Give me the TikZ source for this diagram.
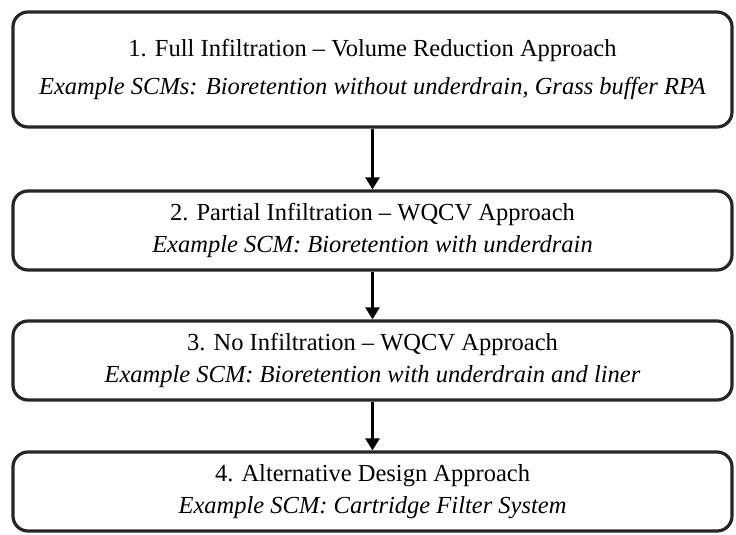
\documentclass[tikz,border=0pt]{standalone}
\usepackage{fontspec}
\setmainfont{Liberation Serif}
\usetikzlibrary{arrows.meta}

\begin{document}
\begin{tikzpicture}[x=1pt,y=-1pt,
  stage/.style={draw=black!85,line width=3.2pt,rounded corners=15pt,minimum width=719pt,align=center,
    inner sep=0pt,font=\fontsize{24.5}{32.5}\selectfont},
  flow/.style={line width=2.6pt,-{Triangle[width=14pt,length=12pt]}}]
\useasboundingbox (0,0) rectangle (736,535);
\node(S1) [stage,minimum height=115pt,font=\fontsize{24.5}{38}\selectfont] at (372.5,69.5)
  {1. Full Infiltration -- Volume Reduction Approach\\
   \textit{Example SCMs: Bioretention without underdrain, Grass buffer RPA}};
\node(S2) [stage,minimum height=79pt] at (372.5,230.5)
  {2. Partial Infiltration -- WQCV Approach\\
   \textit{Example SCM: Bioretention with underdrain}};
\node(S3) [stage,minimum height=79pt] at (372.5,360.5)
  {3. No Infiltration -- WQCV Approach\\
   \textit{Example SCM: Bioretention with underdrain and liner}};
\node(S4) [stage,minimum height=79pt] at (372.5,491.5)
  {4. Alternative Design Approach\\
   \textit{Example SCM: Cartridge Filter System}};
\draw[flow] (S1) -- (S2);
\draw[flow] (S2) -- (S3);
\draw[flow] (S3) -- (S4);
\end{tikzpicture}
\end{document}
